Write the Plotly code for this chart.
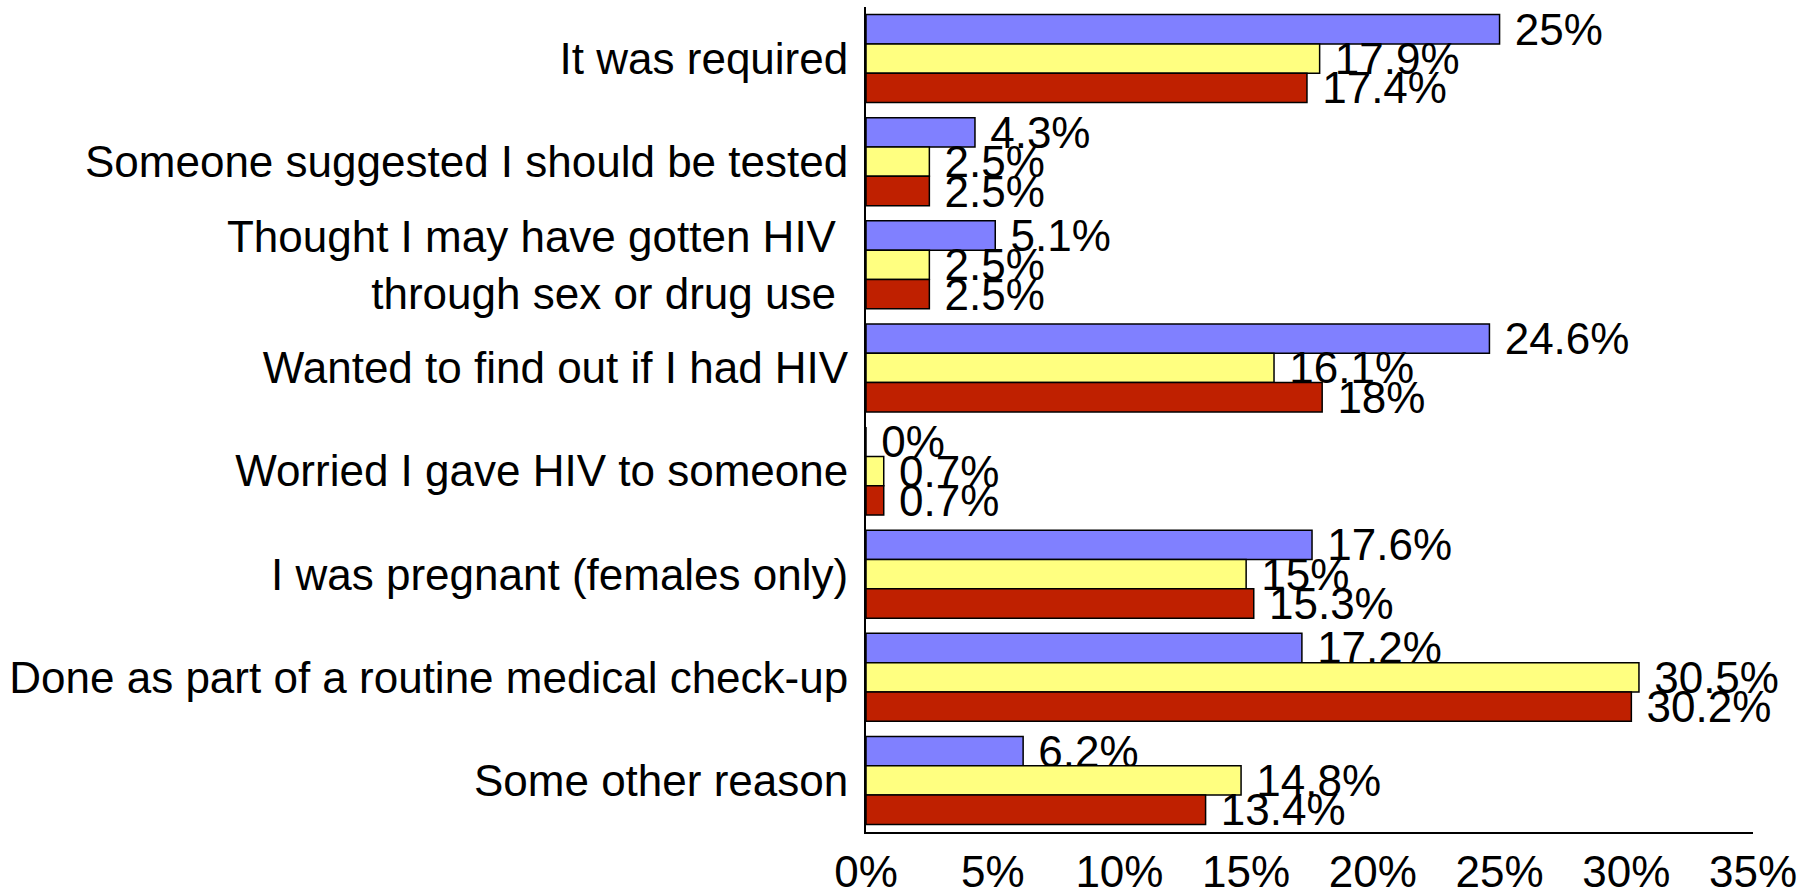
import plotly.graph_objects as go

categories = [
    "It was required",
    "Someone suggested I should be tested",
    "Thought I may have gotten HIV\u00a0<br>through sex or drug use\u00a0",
    "Wanted to find out if I had HIV",
    "Worried I gave HIV to someone",
    "I was pregnant (females only)",
    "Done as part of a routine medical check-up",
    "Some other reason",
]
series_names = ["Series 1", "Series 2", "Series 3"]
series1 = [25, 4.3, 5.1, 24.6, 0, 17.6, 17.2, 6.2]
series2 = [17.9, 2.5, 2.5, 16.1, 0.7, 15, 30.5, 14.8]
series3 = [17.4, 2.5, 2.5, 18, 0.7, 15.3, 30.2, 13.4]
colors = ["#8080FF", "#FFFF80", "#BF2000"]
tick_vals = [0, 5, 10, 15, 20, 25, 30, 35]
tick_text = [f"{v}%" for v in tick_vals]

FONT = "Liberation Sans, Arial, sans-serif"
FS = 44

fig = go.Figure()
for name, vals, col in zip(series_names, [series1, series2, series3], colors):
    fig.add_trace(go.Bar(
        y=categories, x=vals, name=name, orientation="h",
        marker=dict(color=col, line=dict(color="black", width=1.5)),
        text=[f"\u00a0{v:g}%" for v in vals],
        textposition="outside",
        constraintext="none",
        cliponaxis=False,
        outsidetextfont=dict(family=FONT, size=FS, color="black"),
        hoverinfo="skip",
    ))

fig.update_layout(
    width=1816, height=889,
    margin=dict(l=866, r=63, t=7, b=57, autoexpand=False),
    barmode="group", bargap=0.146, bargroupgap=0,
    showlegend=False,
    plot_bgcolor="white", paper_bgcolor="white",
    font=dict(family=FONT, size=FS, color="black"),
)
fig.update_xaxes(
    range=[0, 35], tickvals=tick_vals, ticktext=tick_text, automargin=False,
    showgrid=False, zeroline=False, showline=True, linecolor="black", linewidth=2,
    ticks="", tickfont=dict(size=FS), ticklabelstandoff=0,
)
fig.update_yaxes(
    autorange="reversed", showgrid=False, zeroline=False, automargin=False,
    showline=True, linecolor="black", linewidth=2,
    ticks="", tickfont=dict(size=FS), ticklabelstandoff=7,
)

fig.write_html(
    "out.html",
    config={"displayModeBar": False},
    post_script="document.body.style.margin='0';document.body.style.overflow='hidden';",
)
